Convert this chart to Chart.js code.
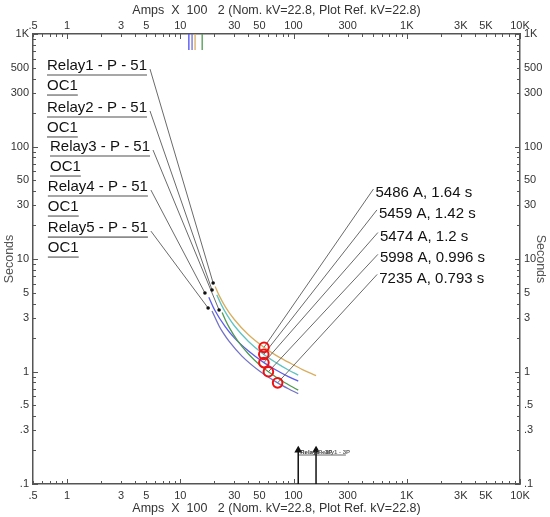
<!DOCTYPE html>
<html>
<head>
<meta charset="utf-8">
<script src="https://cdn.jsdelivr.net/npm/chart.js@4.4.1/dist/chart.umd.min.js"></script>
<style>
html, body { margin: 0; padding: 0; background: #fff; }
</style>
</head>
<body>
<canvas id="tcc" width="550" height="517"></canvas>
<script>
// Relay time-current curves (Amps x 100, seconds)
const relay1Amps = [20.3, 22, 25, 30, 40, 54.86, 70, 90, 120, 158];
const relay1Secs = [5.7, 4.75, 3.76, 2.9, 2.12, 1.64, 1.39, 1.21, 1.04, 0.92];
const relay2Amps = [21, 23, 26, 30, 40, 54.59, 70, 90, 110];
const relay2Secs = [4.81, 3.93, 3.15, 2.55, 1.85, 1.42, 1.2, 1.03, 0.93];
const relay3Amps = [23.4, 25, 27, 32, 40, 50, 59.98, 80, 110];
const relay3Secs = [3.34, 2.87, 2.47, 1.88, 1.43, 1.15, 0.996, 0.818, 0.683];
const relay4Amps = [17.85, 20, 25, 30, 40, 54.74, 70, 90, 110];
const relay4Secs = [4.57, 3.56, 2.49, 1.99, 1.52, 1.2, 1.03, 0.9, 0.82];
const relay5Amps = [19.05, 22, 24, 27, 35, 50, 72.35, 90, 110];
const relay5Secs = [3.45, 2.54, 2.19, 1.85, 1.37, 1.01, 0.793, 0.703, 0.636];
const relayColors = ['#d8ae5e', '#5fc3c3', '#4f9a4f', '#5b5bf0', '#7272c6'];

// pickup marks on top
const pickupAmps = [11.9, 12.7, 13.5, 15.6];
const pickupSecs = [1000, 720];
const pickupColors = ['#4b4bf2', '#7070d0', '#d8ae5e', '#4f9a4f'];

// fault current marks at bottom
const faultAmps = [110, 158];
const faultSecs = [0.1, 0.2];
const faultTagAmps = [110, 290];
const faultTagSecs = 0.181;
const faultText = 'Relay1 - 3P';

// operating points and their tags
const opAmps = [54.86, 54.59, 54.74, 59.98, 72.35];
const opSecs = [1.64, 1.42, 1.2, 0.996, 0.793];
const opText = ['5486 A, 1.64 s', '5459 A, 1.42 s', '5474 A, 1.2 s', '5998 A, 0.996 s', '7235 A, 0.793 s'];
const opTagAmps = [508, 545, 556, 556, 548];
const opTagSecs = [41.9, 27.3, 17.2, 11.0, 7.3];

// relay name tags on the left
const relayNames = ['Relay1 - P - 51', 'Relay2 - P - 51', 'Relay3 - P - 51', 'Relay4 - P - 51', 'Relay5 - P - 51'];
const relaySub = 'OC1';
const tagAmps = [5.4, 5.4, 5.74, 5.5, 5.5];
const tagSecs = [488, 207, 93, 41, 17.7];
const tagEndAmps = [19.5, 19.07, 22.0, 16.5, 17.6];
const tagEndSecs = [6.12, 5.3, 3.52, 4.99, 3.67];

// axis labels
const xLabelVals = [0.5, 1, 3, 5, 10, 30, 50, 100, 300, 1000, 3000, 5000, 10000];
const xLabelText = ['.5', '1', '3', '5', '10', '30', '50', '100', '300', '1K', '3K', '5K', '10K'];
const yLabelVals = [0.1, 0.3, 0.5, 1, 3, 5, 10, 30, 50, 100, 300, 500, 1000];
const yLabelText = ['.1', '.3', '.5', '1', '3', '5', '10', '30', '50', '100', '300', '500', '1K'];
const xTitle = 'Amps  X  100   2 (Nom. kV=22.8, Plot Ref. kV=22.8)';
const yTitle = 'Seconds';

const FONT = '"Liberation Sans", Arial, sans-serif';
const AXIS = '#555';

function logTicks(min, max) {
    const out = [];
    for (let d = Math.floor(Math.log10(min)); d <= Math.ceil(Math.log10(max)); d++) {
        for (let k = 1; k <= 9; k++) {
            const v = +(k * Math.pow(10, d)).toPrecision(6);
            if (v >= min && v <= max) out.push(v);
        }
    }
    return out;
}

const pts = (xs, ys) => xs.map((v, i) => ({x: v, y: ys[i]}));

const datasets = [];

// circles on top
datasets.push({
    data: pts(opAmps, opSecs),
    pointStyle: 'circle',
    pointRadius: 4.8,
    pointBorderWidth: 2,
    pointBorderColor: '#ee1111',
    pointBackgroundColor: 'rgba(0,0,0,0)',
    showLine: false,
    order: 0,
});

// leaders to the operating point tags
opAmps.forEach((a, i) => {
    datasets.push({
        data: [{x: a, y: opSecs[i]}, {x: opTagAmps[i], y: opTagSecs[i]}],
        showLine: true,
        borderColor: '#6a6a6a',
        borderWidth: 1,
        pointRadius: 0,
        order: 1,
    });
});

// leaders from relay names
tagAmps.forEach((a, i) => {
    datasets.push({
        data: [{x: a, y: tagSecs[i]}, {x: tagEndAmps[i], y: tagEndSecs[i]}],
        showLine: true,
        borderColor: '#6a6a6a',
        borderWidth: 1,
        pointRadius: [0, 1.8],
        pointBackgroundColor: '#111',
        pointBorderWidth: 0,
        order: 1,
    });
});

// relay curves
[[relay1Amps, relay1Secs], [relay2Amps, relay2Secs], [relay3Amps, relay3Secs],
 [relay4Amps, relay4Secs], [relay5Amps, relay5Secs]].forEach(([a, s], i) => {
    datasets.push({
        label: relayNames[i],
        data: pts(a, s),
        showLine: true,
        borderColor: relayColors[i],
        borderWidth: 1.3,
        pointRadius: 0,
        cubicInterpolationMode: 'monotone',
        order: 2,
    });
});

// pickup marks
pickupAmps.forEach((a, i) => {
    datasets.push({
        data: pickupSecs.map(s => ({x: a, y: s})),
        showLine: true,
        borderColor: pickupColors[i],
        borderWidth: 1.3,
        pointRadius: 0,
        order: 2,
    });
});

// fault marks with arrow heads
faultAmps.forEach(a => {
    datasets.push({
        data: faultSecs.map(s => ({x: a, y: s})),
        showLine: true,
        borderColor: '#111',
        borderWidth: 1.5,
        pointStyle: 'triangle',
        pointRadius: [0, 3],
        pointBackgroundColor: '#111',
        pointBorderColor: '#111',
        order: 1,
    });
});
datasets.push({
    data: faultTagAmps.map(a => ({x: a, y: faultTagSecs})),
    showLine: true,
    borderColor: '#666',
    borderWidth: 1,
    pointRadius: 0,
    order: 1,
});

function xAxis(position, size) {
    return {
        type: 'logarithmic',
        position: position,
        min: 0.5,
        max: 10000,
        afterFit: s => { s.height = size; },
        afterBuildTicks: s => { s.ticks = logTicks(0.5, 10000).map(v => ({value: v})); },
        ticks: {
            autoSkip: false,
            maxRotation: 0,
            padding: position === 'bottom' ? 5 : 1,
            color: '#333',
            font: {family: FONT, size: 11},
            callback: v => { const i = xLabelVals.indexOf(v); return i < 0 ? '' : xLabelText[i]; },
        },
        grid: {drawOnChartArea: false, drawTicks: false},
        border: {display: true, color: AXIS, width: 1.5},
        title: {
            display: true,
            text: xTitle,
            color: '#333',
            font: {family: FONT, size: 12.5},
            padding: position === 'bottom' ? {top: 0, bottom: 1} : {top: 3, bottom: 0},
        },
    };
}

function yAxis(position, size) {
    return {
        type: 'logarithmic',
        position: position,
        min: 0.1,
        max: 1000,
        afterFit: s => { s.width = size; },
        afterBuildTicks: s => { s.ticks = logTicks(0.1, 1000).map(v => ({value: v})); },
        ticks: {
            autoSkip: false,
            padding: 4,
            color: '#333',
            font: {family: FONT, size: 11},
            callback: v => { const i = yLabelVals.indexOf(v); return i < 0 ? '' : yLabelText[i]; },
        },
        grid: {drawOnChartArea: false, drawTicks: false},
        border: {display: true, color: AXIS, width: 1.5},
        title: {
            display: true,
            text: yTitle,
            color: '#555',
            font: {family: FONT, size: 12.5},
            padding: {top: 2, bottom: 0},
        },
    };
}

// inner tick marks and the text tags
const tagsPlugin = {
    id: 'tags',
    afterDraw(chart) {
        const {ctx, chartArea: a, scales: {x, y}} = chart;
        ctx.save();
        ctx.strokeStyle = AXIS;
        ctx.lineWidth = 1;
        const seg = (x1, y1, x2, y2) => { ctx.beginPath(); ctx.moveTo(x1, y1); ctx.lineTo(x2, y2); ctx.stroke(); };
        const isDecade = v => Math.abs(Math.log10(v) - Math.round(Math.log10(v))) < 1e-6;
        logTicks(0.5, 10000).forEach(v => {
            const px = Math.round(x.getPixelForValue(v)) + 0.5;
            const len = isDecade(v) ? 5 : 3;
            seg(px, a.bottom, px, a.bottom - len);
            seg(px, a.top, px, a.top + len);
        });
        logTicks(0.1, 1000).forEach(v => {
            const py = Math.round(y.getPixelForValue(v)) + 0.5;
            const len = isDecade(v) ? 5 : 3;
            seg(a.left, py, a.left + len, py);
            seg(a.right, py, a.right - len, py);
        });

        ctx.font = '15px ' + FONT;
        ctx.textBaseline = 'middle';
        ctx.textAlign = 'left';
        relayNames.forEach((name, i) => {
            const right = x.getPixelForValue(tagAmps[i]) - 3;
            const py = y.getPixelForValue(tagSecs[i]) - 3;
            const w = ctx.measureText(name).width;
            const w2 = ctx.measureText(relaySub).width;
            const left = right - w;
            ctx.fillStyle = '#111';
            ctx.fillText(name, left, py);
            ctx.fillText(relaySub, left, py + 20);
            ctx.strokeStyle = '#8a8a8a';
            ctx.lineWidth = 1.6;
            seg(left, py + 9, right, py + 9);
            seg(left, py + 29, left + w2, py + 29);
        });

        ctx.fillStyle = '#111';
        opText.forEach((t, i) => {
            ctx.fillText(t, x.getPixelForValue(opTagAmps[i]) + 2, y.getPixelForValue(opTagSecs[i]) + 4);
        });

        ctx.font = 'bold 6px ' + FONT;
        ctx.fillStyle = '#333';
        const fy = y.getPixelForValue(faultTagSecs) - 3;
        ctx.fillText(faultText, x.getPixelForValue(faultAmps[0]) + 2, fy);
        ctx.fillStyle = '#666';
        ctx.fillText(faultText, x.getPixelForValue(faultAmps[1]) + 2, fy);
        ctx.restore();
    },
};

new Chart(document.getElementById('tcc').getContext('2d'), {
    type: 'scatter',
    data: {datasets},
    options: {
        responsive: false,
        animation: false,
        layout: {padding: 0},
        plugins: {legend: {display: false}, tooltip: {enabled: false}},
        scales: {
            x: xAxis('bottom', 33),
            x2: xAxis('top', 34),
            y: yAxis('left', 33),
            y2: yAxis('right', 30),
        },
    },
    plugins: [tagsPlugin],
});
</script>
</body>
</html>
